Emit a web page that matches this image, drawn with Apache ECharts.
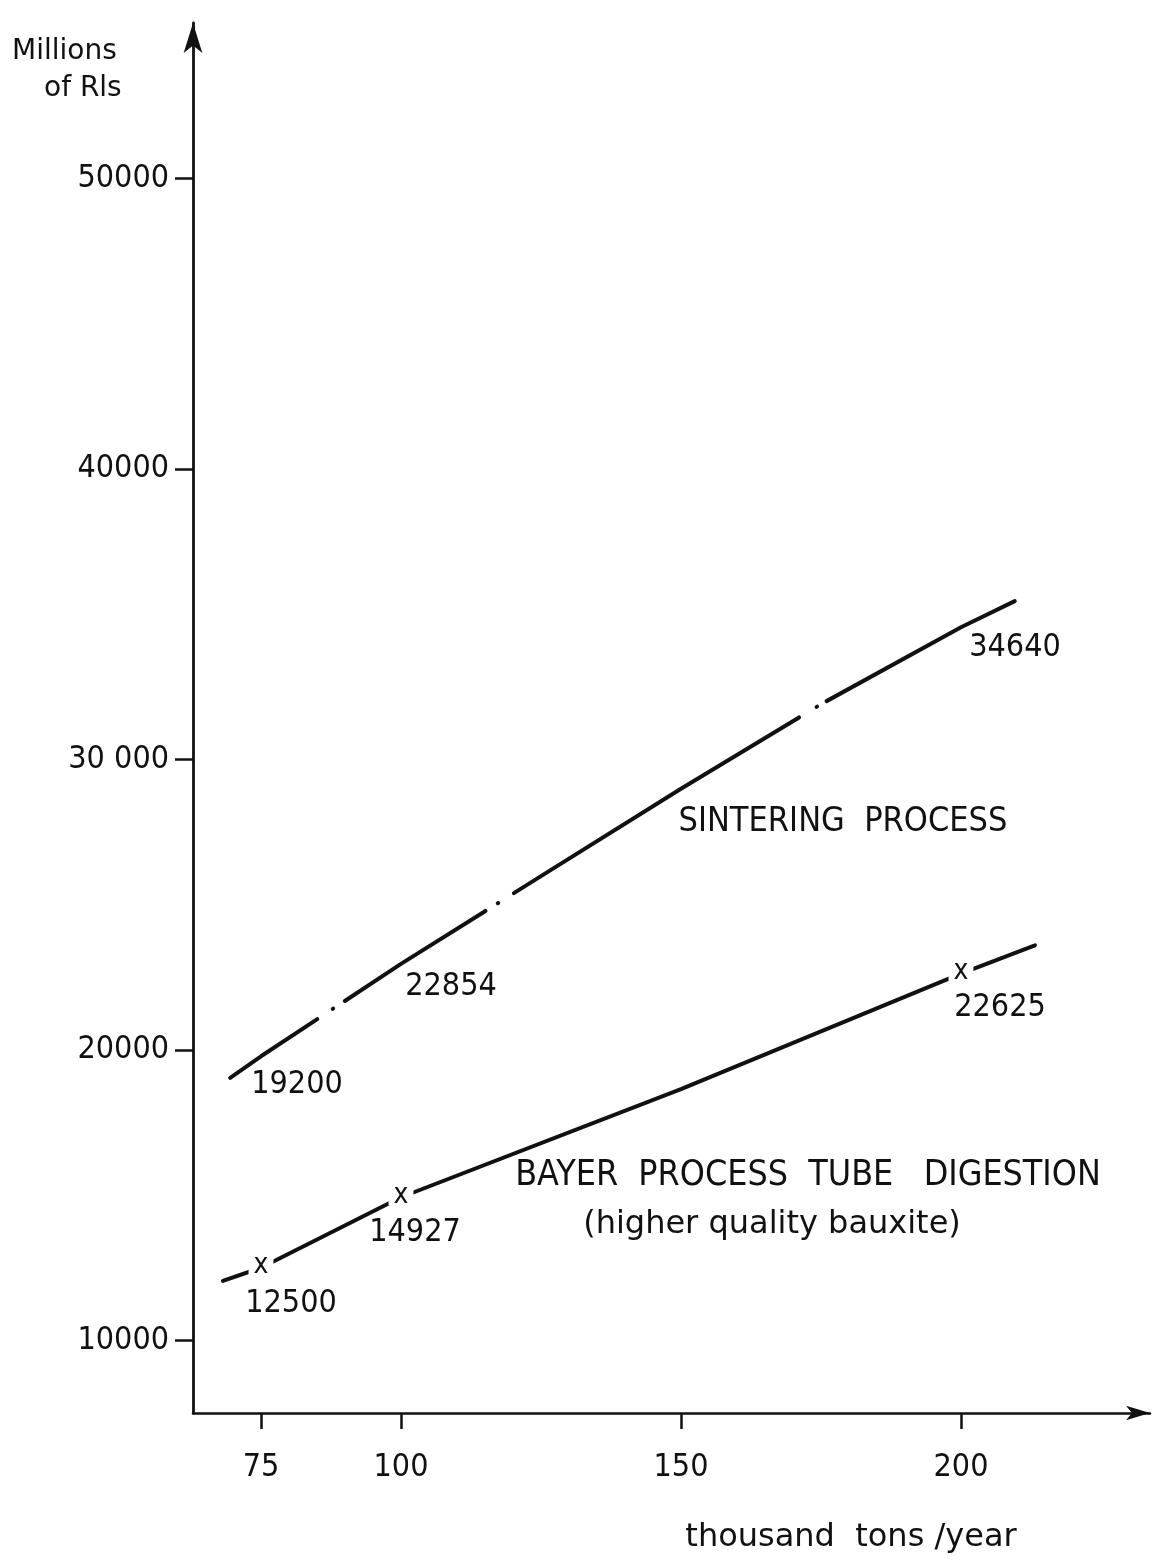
<!DOCTYPE html>
<html>
<head>
<meta charset="utf-8">
<script src="https://cdn.jsdelivr.net/npm/echarts@6/dist/echarts.min.js"></script>
<style>
  html, body { margin: 0; padding: 0; background: #ffffff; }
  #chart { width: 1172px; height: 1564px; }
</style>
</head>
<body>
<div id="chart"></div>
<script>
// ---- data ----
const xTicks = [75, 100, 150, 200];
const yTicks = [10000, 20000, 30000, 40000, 50000];
const yTickLabels = ['10000', '20000', '30 000', '40000', '50000'];

const capacities = [75, 100, 200];                 // thousand tons / year
const sinterValues = [19200, 22854, 34640];       // labelled values, sintering
const bayerValues = [12500, 14927, 22625];        // labelled values, Bayer

// drawn curves (x = thousand tons/year, y = millions of Rls)
const sinterCurveX = [69.5, 75, 100, 125, 150, 175, 200, 209.6];
const sinterCurveY = [19040, 19780, 22960, 25980, 28990, 31900, 34550, 35450];
const bayerCurveX = [68.2, 75, 100, 150, 200, 213.2];
const bayerCurveY = [12050, 12500, 14927, 18650, 22625, 23600];

// ---- chart ----
const INK = '#111111';
const NUM_FONT = '"DejaVu Sans Condensed", "DejaVu Sans", sans-serif';
const TXT_FONT = '"DejaVu Sans", sans-serif';

const chart = echarts.init(document.getElementById('chart'), null, { renderer: 'canvas' });

const sinterOffsets = [[36, 12], [50, 20], [54, 23]];
const bayerOffsets = [[30, 36], [14, 35], [39, 34]];

function valueLabels(values, offsets) {
  return capacities.map((x, i) => ({
    value: [x, values[i]],
    label: { offset: offsets[i] }
  }));
}

const hiddenItem = { color: 'rgba(0,0,0,0)', opacity: 1 };

const option = {
  animation: false,
  backgroundColor: '#ffffff',
  grid: { left: 193, top: 23, width: 957, height: 1390, outerBoundsMode: 'none', containLabel: false },
  xAxis: {
    type: 'value',
    min: 62.86,
    max: 233.75,
    splitLine: { show: false },
    axisLine: {
      onZero: false,
      lineStyle: { color: INK, width: 2.5 },
      symbol: ['none', 'arrow'],
      symbolSize: [11, 24]
    },
    axisTick: { customValues: xTicks, length: 16, inside: false, lineStyle: { color: INK, width: 2.5 } },
    axisLabel: {
      customValues: xTicks,
      margin: 39,
      color: INK,
      fontFamily: NUM_FONT,
      fontSize: 32,
      formatter: v => String(v)
    }
  },
  yAxis: {
    type: 'value',
    min: 7500,
    max: 55350,
    splitLine: { show: false },
    axisLine: {
      onZero: false,
      lineStyle: { color: INK, width: 2.8 },
      symbol: ['none', 'arrow'],
      symbolSize: [14, 30]
    },
    axisTick: { customValues: yTicks, length: 18, inside: false, lineStyle: { color: INK, width: 2.5 } },
    axisLabel: {
      customValues: yTicks,
      margin: 24,
      color: INK,
      fontFamily: NUM_FONT,
      fontSize: 32,
      formatter: v => yTickLabels[yTicks.indexOf(v)]
    }
  },
  series: [
    {
      name: 'Sintering process',
      type: 'line',
      silent: true,
      showSymbol: false,
      symbol: 'none',
      data: sinterCurveX.map((x, i) => [x, sinterCurveY[i]]),
      lineStyle: {
        color: INK, width: 4, cap: 'round', opacity: 1,
        type: [105, 18.5, 0.5, 14, 167, 14.5, 0.5, 18.5, 335, 20.5, 0.5, 11, 400, 10]
      },
      z: 2
    },
    {
      name: 'Bayer process tube digestion',
      type: 'line',
      silent: true,
      showSymbol: false,
      symbol: 'none',
      data: bayerCurveX.map((x, i) => [x, bayerCurveY[i]]),
      lineStyle: { color: INK, width: 4, cap: 'round', opacity: 1 },
      z: 2
    },
    {
      name: 'Bayer markers',
      type: 'scatter',
      silent: true,
      symbol: 'circle',
      symbolSize: 1,
      itemStyle: hiddenItem,
      data: capacities.map((x, i) => [x, bayerValues[i]]),
      label: {
        show: true,
        position: 'inside',
        formatter: 'x',
        color: INK,
        opacity: 1,
        fontFamily: NUM_FONT,
        fontSize: 28,
        lineHeight: 20,
        offset: [0, -2],
        backgroundColor: '#ffffff',
        padding: [0, 5]
      },
      z: 5
    },
    {
      name: 'Sintering values',
      type: 'scatter',
      silent: true,
      symbol: 'circle',
      symbolSize: 1,
      itemStyle: hiddenItem,
      data: valueLabels(sinterValues, sinterOffsets),
      label: {
        show: true,
        position: 'inside',
        formatter: p => String(p.value[1]),
        color: INK,
        opacity: 1,
        fontFamily: NUM_FONT,
        fontSize: 32
      },
      z: 6
    },
    {
      name: 'Bayer values',
      type: 'scatter',
      silent: true,
      symbol: 'circle',
      symbolSize: 1,
      itemStyle: hiddenItem,
      data: valueLabels(bayerValues, bayerOffsets),
      label: {
        show: true,
        position: 'inside',
        formatter: p => String(p.value[1]),
        color: INK,
        opacity: 1,
        fontFamily: NUM_FONT,
        fontSize: 32
      },
      z: 6
    }
  ],
  graphic: [
    { type: 'text', x: 12, y: 52, style: { text: 'Millions', fill: INK, font: '28px ' + TXT_FONT, align: 'left', verticalAlign: 'middle' } },
    { type: 'text', x: 44, y: 89, style: { text: 'of Rls', fill: INK, font: '28px ' + TXT_FONT, align: 'left', verticalAlign: 'middle' } },
    { type: 'text', x: 843, y: 822, style: { text: 'SINTERING  PROCESS', fill: INK, font: '34px ' + NUM_FONT, align: 'center', verticalAlign: 'middle' } },
    { type: 'text', x: 808, y: 1176, style: { text: 'BAYER  PROCESS  TUBE   DIGESTION', fill: INK, font: '35.5px ' + NUM_FONT, align: 'center', verticalAlign: 'middle' } },
    { type: 'text', x: 772, y: 1225, style: { text: '(higher quality bauxite)', fill: INK, font: '32px ' + TXT_FONT, align: 'center', verticalAlign: 'middle' } },
    { type: 'text', x: 851, y: 1538, style: { text: 'thousand  tons /year', fill: INK, font: '32px ' + TXT_FONT, align: 'center', verticalAlign: 'middle' } }
  ]
};

chart.setOption(option);
</script>
</body>
</html>
